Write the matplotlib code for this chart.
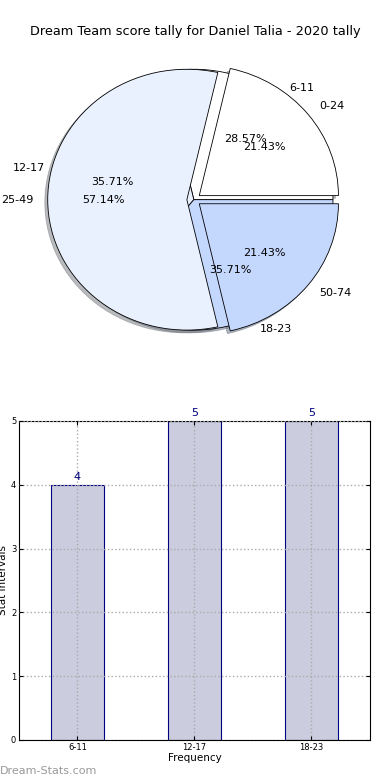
import numpy as np
from matplotlib import pyplot as plt

title = 'Dream Team score tally for Daniel Talia - 2020 tally'

# back pie (frequency groups)
freq_labels = ['6-11', '12-17', '18-23']
freq_values = [4, 5, 5]

# front pie (score groups)
score_labels = ['0-24', '25-49', '50-74']
score_values = [3, 8, 3]

pie_colors = ['#ffffff', '#eaf1fe', '#c4d8fe']

fig = plt.figure(figsize=(3.9, 7.8), dpi=100)
fig.suptitle(title, fontsize=9.3, y=0.968)

# pie part
ax1 = fig.add_axes([0.051, 0.535, 0.892, 0.418])
ax1.pie(freq_values, labels=freq_labels, colors=pie_colors, autopct='%.2f%%',
        shadow={'ox': -0.015, 'oy': -0.015, 'shade': 0.5},
        wedgeprops={'edgecolor': 'black', 'linewidth': 0.6},
        textprops={'fontsize': 8})
ax1.pie(score_values, labels=score_labels, colors=pie_colors, autopct='%.2f%%',
        explode=[0.05, 0.05, 0.05],
        shadow={'ox': -0.015, 'oy': -0.015, 'shade': 0.5},
        wedgeprops={'edgecolor': 'black', 'linewidth': 0.6},
        textprops={'fontsize': 8})
ax1.set_aspect('auto')
ax1.set_xlim(-1.25, 1.25)
ax1.set_ylim(-1.25, 1.25)

# bar part
ax2 = fig.add_axes([0.0487, 0.0513, 0.9, 0.409])
x = np.arange(len(freq_labels))
bars = ax2.bar(x, freq_values, width=0.45, color='#ccccdf', edgecolor='navy', linewidth=0.8, zorder=1)
for b, v in zip(bars, freq_values):
    ax2.text(b.get_x() + b.get_width() / 2, v + 0.05, str(v), ha='center', va='bottom',
             color='navy', fontsize=8)
ax2.set_xlim(-0.5, 2.5)
ax2.set_ylim(0, 5)
ax2.set_xticks(x)
ax2.set_xticklabels(freq_labels)
ax2.tick_params(labelsize=6, direction='in', top=True, right=True, length=3, pad=2)
ax2.set_axisbelow(False)
ax2.grid(True, linestyle=':', color='#aaaaaa', linewidth=1, zorder=3)
ax2.set_xlabel('Frequency', fontsize=7.5, labelpad=1)
ax2.set_ylabel('Stat Intervals', fontsize=7.5, labelpad=2)

fig.text(0.0, 0.008, 'Dream-Stats.com', fontsize=8, color='#999999')

fig.savefig('out.png', dpi=100)
